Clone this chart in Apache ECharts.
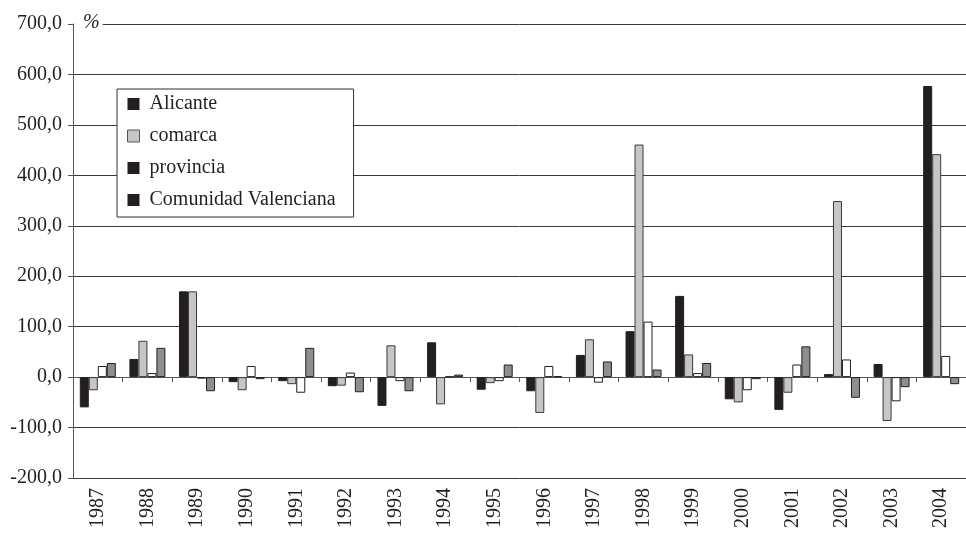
<!DOCTYPE html>
<html>
<head>
<meta charset="utf-8">
<script src="https://cdn.jsdelivr.net/npm/echarts@6/dist/echarts.min.js"></script>
<style>
  html, body { margin: 0; padding: 0; background: #fff; }
  #chart { width: 966px; height: 534px; }
</style>
</head>
<body>
<div id="chart"></div>
<script>
  // años
  const years = ['1987', '1988', '1989', '1990', '1991', '1992', '1993', '1994', '1995',
    '1996', '1997', '1998', '1999', '2000', '2001', '2002', '2003', '2004']

  // variación anual (%)
  const alicante = [-60, 36, 170, -10, -8, -18, -57, 69, -25, -28, 44, 91, 161, -44, -65, 6, 26, 577]
  const comarca = [-26, 72, 170, -26, -14, -17, 63, -54, -12, -71, 75, 461, 45, -50, -31, 349, -87, 442]
  const provincia = [22, 8, -3, 22, -31, 9, -8, 1, -8, 22, -11, 110, 8, -26, 25, 35, -48, 42]
  const comunidad = [28, 58, -28, -4, 58, -30, -28, 5, 25, 2, 31, 15, 28, -4, 61, -41, -20, -14]

  const seriesNames = ['Alicante', 'comarca', 'provincia', 'Comunidad Valenciana']

  const font = '"Liberation Serif", "DejaVu Serif", serif'
  const chart = echarts.init(document.getElementById('chart'))

  function bar(name, data, color, border) {
    return {
      name: name,
      type: 'bar',
      data: data,
      barWidth: 9,
      barGap: '0%',
      itemStyle: {
        color: color,
        borderColor: border,
        borderWidth: 1
      }
    }
  }

  chart.setOption({
    animation: false,
    textStyle: {fontFamily: font},
    grid: {left: 73, right: -9, top: 24, bottom: 56},
    legend: {
      orient: 'vertical',
      left: 117,
      top: 89,
      padding: [5, 18, 7, 10],
      icon: 'rect',
      itemWidth: 12,
      itemHeight: 12,
      itemGap: 12,
      backgroundColor: '#fff',
      borderColor: '#333',
      borderWidth: 1,
      textStyle: {fontFamily: font, fontSize: 20, color: '#231f20', padding: [0, 0, 0, 5]},
      data: [
        {name: seriesNames[0], itemStyle: {color: '#231f20', borderWidth: 0}},
        {name: seriesNames[1], itemStyle: {color: '#c6c6c6', borderColor: '#555', borderWidth: 1}},
        {name: seriesNames[2], itemStyle: {color: '#231f20', borderWidth: 0}},
        {name: seriesNames[3], itemStyle: {color: '#231f20', borderWidth: 0}}
      ]
    },
    xAxis: [
      {
        // etiquetas abajo
        type: 'category',
        data: years,
        position: 'bottom',
        axisLine: {show: false, onZero: false},
        axisTick: {show: false},
        axisLabel: {
          rotate: 90,
          margin: 10,
          fontFamily: font,
          fontSize: 20,
          color: '#231f20'
        }
      },
      {
        // línea del cero con marcas
        type: 'category',
        data: years,
        position: 'bottom',
        axisLine: {show: true, onZero: true, lineStyle: {color: '#555', width: 1}},
        axisTick: {show: true, length: 5, lineStyle: {color: '#555'}},
        axisLabel: {show: false}
      }
    ],
    yAxis: {
      type: 'value',
      min: -200,
      max: 700,
      interval: 100,
      name: '%',
      nameLocation: 'end',
      nameGap: -9,
      nameTextStyle: {
        fontFamily: font,
        fontSize: 20,
        fontStyle: 'italic',
        color: '#231f20',
        align: 'left',
        backgroundColor: '#fff',
        padding: [0, 3, 0, 10]
      },
      axisLine: {show: true, lineStyle: {color: '#555', width: 1}},
      axisTick: {show: true, length: 5, lineStyle: {color: '#555'}},
      axisLabel: {
        margin: 11,
        fontFamily: font,
        fontSize: 20,
        color: '#231f20',
        formatter: v => v.toFixed(1).replace('.', ',')
      },
      splitLine: {lineStyle: {color: '#3a3a3a', width: 1}}
    },
    series: [
      bar(seriesNames[0], alicante, '#231f20', '#231f20'),
      bar(seriesNames[1], comarca, '#c6c6c6', '#3a3a3a'),
      bar(seriesNames[2], provincia, '#ffffff', '#231f20'),
      bar(seriesNames[3], comunidad, '#8e8e8e', '#231f20')
    ]
  })
</script>
</body>
</html>
